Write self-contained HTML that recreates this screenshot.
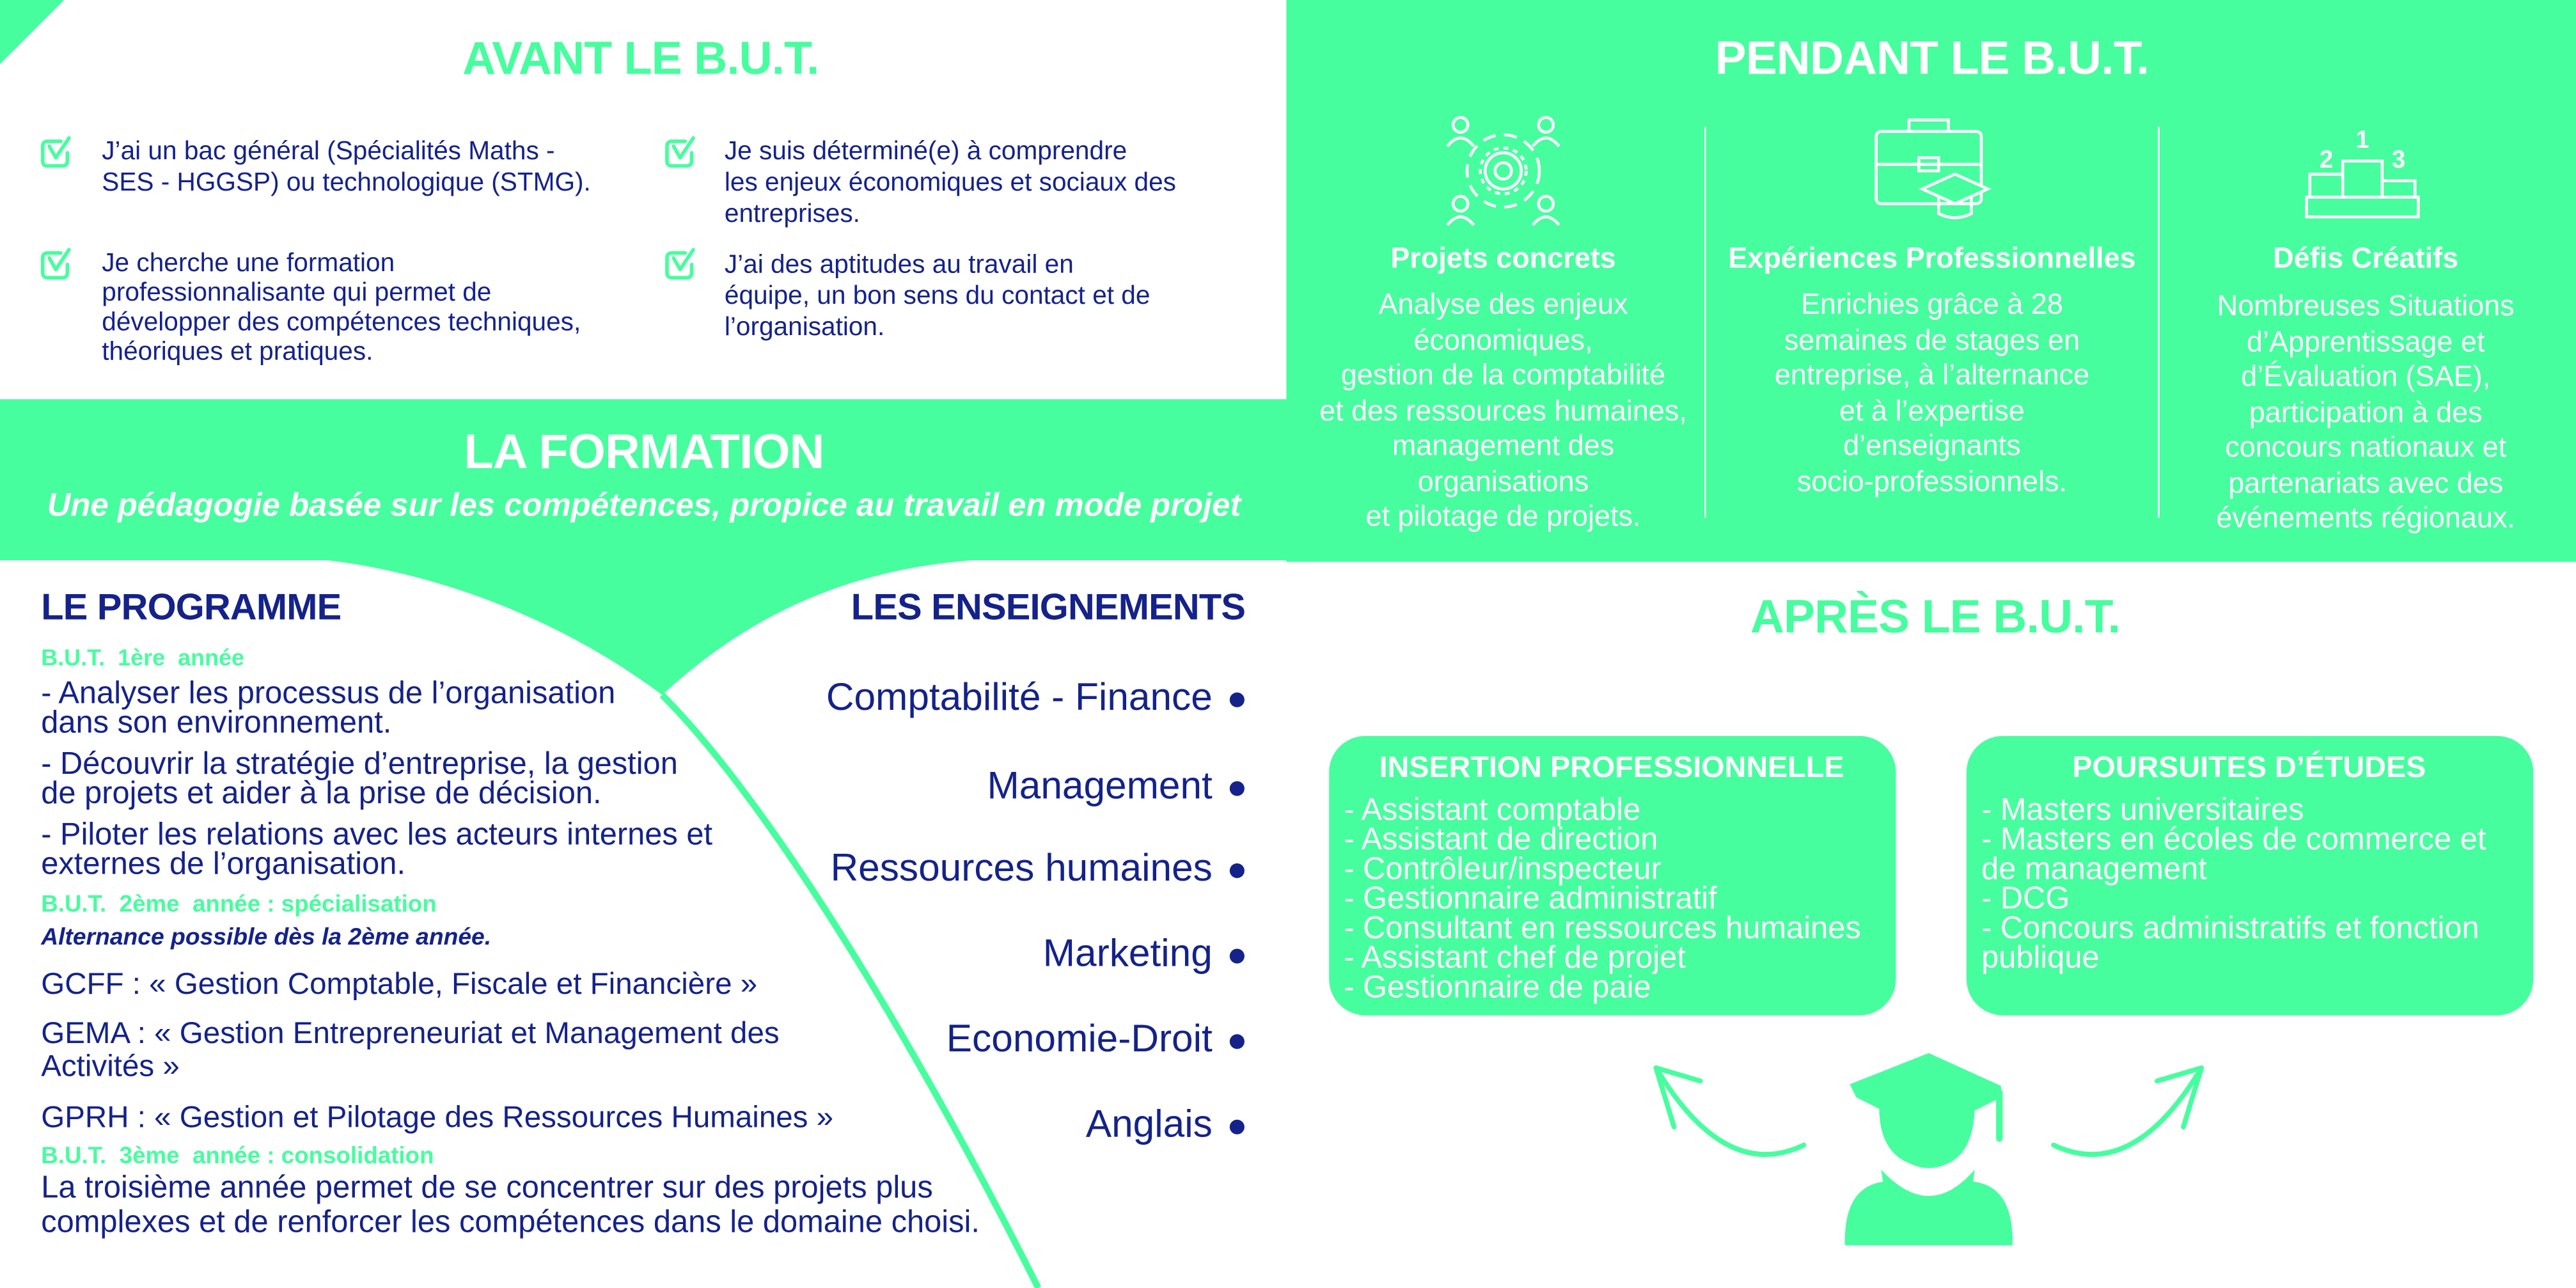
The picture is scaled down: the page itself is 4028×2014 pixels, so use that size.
<!DOCTYPE html>
<html><head><meta charset="utf-8">
<style>
html,body{margin:0;padding:0;background:#fff;}
body{width:4028px;height:2014px;overflow:hidden;position:relative;}
#c{position:absolute;left:0;top:0;width:1568px;height:784px;transform:scale(2.56888);transform-origin:0 0;font-family:"Liberation Sans",sans-serif;}
.a{position:absolute;white-space:nowrap;}
.nv{color:#14228a;}
.gr{color:#46fe9e;}
.wh{color:#fff;}
.h{font-weight:bold;letter-spacing:-0.3px;}
.ctr{transform:translateX(-50%);text-align:center;}
.r{text-align:right;}
</style></head><body>
<div id="c">
<svg class="a" style="left:0;top:0" width="1568" height="784" viewBox="0 0 1568 784">
 <polygon points="0,0 39,0 0,39" fill="#46fe9e"/>
 <rect x="0" y="243" width="784" height="98" fill="#46fe9e"/>
 <rect x="783" y="0" width="785" height="342" fill="#46fe9e"/>
 <path d="M190,340 C255,346 335,372 403,423 C450,380 512,343 610,340 Z" fill="#46fe9e"/>
 <path d="M403,423 C470,490 560,640 632,784" stroke="#46fe9e" stroke-width="4" fill="none"/>
 <line x1="1038" y1="77" x2="1038" y2="315" stroke="#fff" stroke-width="1"/>
 <line x1="1314" y1="77" x2="1314" y2="315" stroke="#fff" stroke-width="1"/>
 <g fill="none" stroke="#46fe9e" stroke-width="2.2" stroke-linecap="round" stroke-linejoin="round">
  <g transform="translate(25,83)"><path d="M12,3 H4 Q1,3 1,6 V15 Q1,18 4,18 H13 Q16,18 16,15 V10"/><path d="M5,6 L9,13 L17,1"/></g>
  <g transform="translate(25,151)"><path d="M12,3 H4 Q1,3 1,6 V15 Q1,18 4,18 H13 Q16,18 16,15 V10"/><path d="M5,6 L9,13 L17,1"/></g>
  <g transform="translate(405,83)"><path d="M12,3 H4 Q1,3 1,6 V15 Q1,18 4,18 H13 Q16,18 16,15 V10"/><path d="M5,6 L9,13 L17,1"/></g>
  <g transform="translate(405,151)"><path d="M12,3 H4 Q1,3 1,6 V15 Q1,18 4,18 H13 Q16,18 16,15 V10"/><path d="M5,6 L9,13 L17,1"/></g>
 </g>
 <g fill="none" stroke="#fff" stroke-width="1.8">
  <circle cx="915" cy="104" r="22" stroke-dasharray="8 5"/>
  <circle cx="915" cy="104" r="11"/><circle cx="915" cy="104" r="5"/>
  <g stroke-dasharray="3 3"><circle cx="915" cy="104" r="14"/></g>
  <circle cx="889" cy="76" r="4.5"/><path d="M881,89 Q889,79 897,89"/>
  <circle cx="941" cy="76" r="4.5"/><path d="M933,89 Q941,79 949,89"/>
  <circle cx="889" cy="124" r="4.5"/><path d="M881,137 Q889,127 897,137"/>
  <circle cx="941" cy="124" r="4.5"/><path d="M933,137 Q941,127 949,137"/>
  <rect x="1142" y="80" width="64" height="44" rx="3"/>
  <path d="M1162,80 V73 H1186 V80"/><path d="M1142,100 H1206"/>
  <rect x="1168" y="96" width="12" height="8"/>
  <path d="M1170,115 L1190,106 L1210,115 L1190,124 Z" fill="#46fe9e"/>
  <path d="M1180,119 V130 Q1190,135 1200,130 V119"/>
  <rect x="1426" y="98" width="24" height="22"/>
  <rect x="1406" y="106" width="20" height="14"/>
  <rect x="1450" y="110" width="20" height="10"/>
  <rect x="1404" y="120" width="68" height="12"/>
 </g>
 <text x="1438" y="90" fill="#fff" font-family="Liberation Sans" font-weight="bold" font-size="15" text-anchor="middle">1</text>
 <text x="1416" y="102" fill="#fff" font-family="Liberation Sans" font-weight="bold" font-size="15" text-anchor="middle">2</text>
 <text x="1460" y="102" fill="#fff" font-family="Liberation Sans" font-weight="bold" font-size="15" text-anchor="middle">3</text>
 <rect x="809" y="448" width="345" height="170" rx="22" fill="#46fe9e"/>
 <rect x="1197" y="448" width="345" height="170" rx="22" fill="#46fe9e"/>
 <g fill="none" stroke="#46fe9e" stroke-width="3" stroke-linecap="round">
  <path d="M1098,697 Q1050,720 1008,650"/>
  <path d="M1008,650 L1035,658"/><path d="M1008,650 L1019,686"/>
  <path d="M1250,697 Q1298,720 1340,650"/>
  <path d="M1340,650 L1313,658"/><path d="M1340,650 L1329,686"/>
 </g>
 <g fill="#46fe9e">
  <path d="M1174,641 L1218,661 L1218,668 L1174,690 L1130,668 L1126,660 Z"/>
  <path d="M1144,668 Q1142,700 1162,708 Q1174,714 1186,708 Q1203,700 1202,668 Z"/>
  <path d="M1145,712 Q1150,748 1174,748 Q1198,748 1202,712 Q1188,728 1174,728 Q1160,728 1145,712 Z"/>
  <rect x="1215" y="663" width="4" height="32" rx="2"/>
  <path d="M1123,758 Q1122,720 1150,719 L1174,745 L1198,719 Q1226,720 1225,758 Z"/>
 </g>
</svg>

<div class="a h gr ctr" style="left:390px;top:20px;font-size:28px;">AVANT LE B.U.T.</div>
<div class="a nv" style="left:62px;top:82.5px;font-size:15.8px;line-height:19px;">J’ai un bac général (Spécialités Maths -<br>SES - HGGSP) ou technologique (STMG).</div>
<div class="a nv" style="left:62px;top:151.5px;font-size:15.8px;line-height:18.3px;">Je cherche une formation<br>professionnalisante qui permet de<br>développer des compétences techniques,<br>théoriques et pratiques.</div>
<div class="a nv" style="left:441px;top:82.5px;font-size:15.8px;line-height:19px;">Je suis déterminé(e) à comprendre<br>les enjeux économiques et sociaux des<br>entreprises.</div>
<div class="a nv" style="left:441px;top:151.5px;font-size:15.8px;line-height:19px;">J’ai des aptitudes au travail en<br>équipe, un bon sens du contact et de<br>l’organisation.</div>

<div class="a h wh ctr" style="left:392px;top:259px;font-size:29.5px;">LA FORMATION</div>
<div class="a wh ctr" style="left:392px;top:297px;font-size:19.8px;font-style:italic;font-weight:bold;">Une pédagogie basée sur les compétences, propice au travail en mode projet</div>

<div class="a h wh ctr" style="left:1176px;top:20px;font-size:28.5px;">PENDANT LE B.U.T.</div>
<div class="a wh ctr" style="left:915px;top:147px;font-size:17.5px;font-weight:bold;">Projets concrets</div>
<div class="a wh ctr" style="left:1176px;top:147px;font-size:17.5px;font-weight:bold;">Expériences Professionnelles</div>
<div class="a wh ctr" style="left:1440px;top:147px;font-size:17.5px;font-weight:bold;">Défis Créatifs</div>
<div class="a wh ctr" style="left:915px;top:175px;font-size:17.5px;line-height:21.5px;">Analyse des enjeux<br>économiques,<br>gestion de la comptabilité<br>et des ressources humaines,<br>management des<br>organisations<br>et pilotage de projets.</div>
<div class="a wh ctr" style="left:1176px;top:175px;font-size:17.5px;line-height:21.5px;">Enrichies grâce à 28<br>semaines de stages en<br>entreprise, à l’alternance<br>et à l’expertise<br>d’enseignants<br>socio-professionnels.</div>
<div class="a wh ctr" style="left:1440px;top:176px;font-size:17.5px;line-height:21.5px;">Nombreuses Situations<br>d’Apprentissage et<br>d’Évaluation (SAE),<br>participation à des<br>concours nationaux et<br>partenariats avec des<br>événements régionaux.</div>

<div class="a h nv" style="left:25px;top:357px;font-size:22.5px;">LE PROGRAMME</div>
<div class="a gr" style="left:25px;top:392px;font-size:14px;font-weight:bold;">B.U.T.&nbsp; 1ère&nbsp; année</div>
<div class="a nv" style="left:25px;top:414px;font-size:19px;line-height:17.5px;">- Analyser les processus de l’organisation<br>dans son environnement.</div>
<div class="a nv" style="left:25px;top:457px;font-size:19px;line-height:17.5px;">- Découvrir la stratégie d’entreprise, la gestion<br>de projets et aider à la prise de décision.</div>
<div class="a nv" style="left:25px;top:500px;font-size:19px;line-height:17.5px;">- Piloter les relations avec les acteurs internes et<br>externes de l’organisation.</div>
<div class="a gr" style="left:25px;top:543px;font-size:14.3px;font-weight:bold;">B.U.T.&nbsp; 2ème&nbsp; année : spécialisation</div>
<div class="a nv" style="left:25px;top:563px;font-size:14.5px;font-weight:bold;font-style:italic;">Alternance possible dès la 2ème année.</div>
<div class="a nv" style="left:25px;top:588px;font-size:18.5px;">GCFF : « Gestion Comptable, Fiscale et Financière »</div>
<div class="a nv" style="left:25px;top:619px;font-size:18.5px;line-height:20px;">GEMA : « Gestion Entrepreneuriat et Management des<br>Activités »</div>
<div class="a nv" style="left:25px;top:669px;font-size:18.5px;">GPRH : « Gestion et Pilotage des Ressources Humaines »</div>
<div class="a gr" style="left:25px;top:696px;font-size:14.3px;font-weight:bold;">B.U.T.&nbsp; 3ème&nbsp; année : consolidation</div>
<div class="a nv" style="left:25px;top:713px;font-size:19px;line-height:21px;">La troisième année permet de se concentrer sur des projets plus<br>complexes et de renforcer les compétences dans le domaine choisi.</div>

<div class="a h nv r" style="right:810px;top:357px;font-size:22.5px;">LES ENSEIGNEMENTS</div>
<div class="a nv r" style="right:830px;top:411px;font-size:23.5px;">Comptabilité - Finance</div>
<div class="a nv r" style="right:830px;top:465px;font-size:23.5px;">Management</div>
<div class="a nv r" style="right:830px;top:515px;font-size:23.5px;">Ressources humaines</div>
<div class="a nv r" style="right:830px;top:567px;font-size:23.5px;">Marketing</div>
<div class="a nv r" style="right:830px;top:619px;font-size:23.5px;">Economie-Droit</div>
<div class="a nv r" style="right:830px;top:671px;font-size:23.5px;">Anglais</div>
<svg class="a" style="left:747px;top:420px" width="12" height="272"><g fill="#14228a"><circle cx="6" cy="6" r="4.5"/><circle cx="6" cy="60" r="4.5"/><circle cx="6" cy="110" r="4.5"/><circle cx="6" cy="162" r="4.5"/><circle cx="6" cy="214" r="4.5"/><circle cx="6" cy="266" r="4.5"/></g></svg>

<div class="a h gr ctr" style="left:1178px;top:360px;font-size:28.5px;">APRÈS LE B.U.T.</div>
<div class="a wh ctr" style="left:981px;top:457px;font-size:18.2px;font-weight:bold;">INSERTION PROFESSIONNELLE</div>
<div class="a wh" style="left:818px;top:485px;font-size:19px;line-height:18px;">- Assistant comptable<br>- Assistant de direction<br>- Contrôleur/inspecteur<br>- Gestionnaire administratif<br>- Consultant en ressources humaines<br>- Assistant chef de projet<br>- Gestionnaire de paie</div>
<div class="a wh ctr" style="left:1369px;top:457px;font-size:18.2px;font-weight:bold;">POURSUITES D’ÉTUDES</div>
<div class="a wh" style="left:1206px;top:485px;font-size:19px;line-height:18px;">- Masters universitaires<br>- Masters en écoles de commerce et<br>de management<br>- DCG<br>- Concours administratifs et fonction<br>publique</div>
</div>
</body></html>
